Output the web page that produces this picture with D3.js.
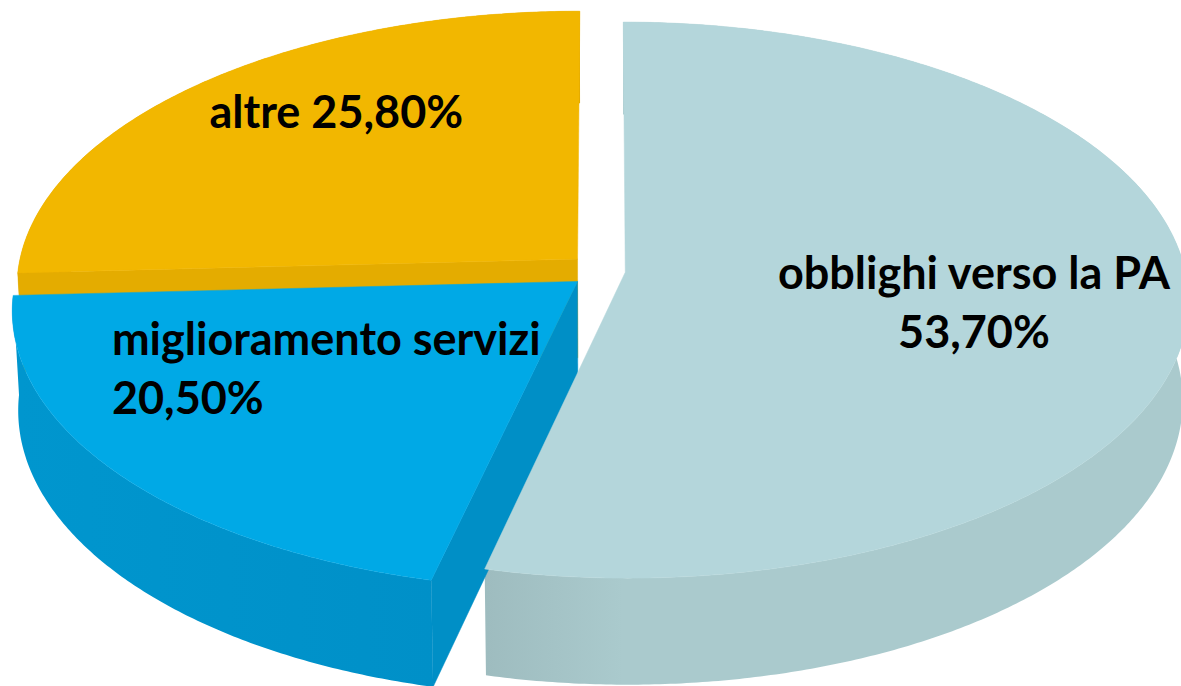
<!DOCTYPE html>
<html>
<head>
<meta charset="utf-8">
<script src="https://cdn.jsdelivr.net/npm/d3@7"></script>
<style>
  html, body { margin: 0; background: #fff; overflow: hidden; }
  text { font-family: Lato, "Open Sans", sans-serif; font-weight: 700; fill: #000; }
</style>
</head>
<body>
<svg id="chart"></svg>
<script>
// data
const categories = ["obblighi verso la PA", "miglioramento servizi", "altre"];
const values = [53.7, 20.5, 25.8];
const explode = [0.04, 0.059, 0.063];
const topColors = ["#B4D6DB", "#00A9E6", "#F2B700"];
const sideColors = [["#AACACD", "#9EBCBF"], ["#0090C8", "#0096CE"], ["#DDA700", "#DDA700"]];
const cutColors = ["#A0C0C3", "#008FC6", "#E4AC00"];
const labelBreak = [true, true, false];
const labelAlign = ["middle", "start", "middle"];
const labelR = [0.62, 0.55, 0.62];
const labelShift = [[1, 13], [-4, -11], [-2, -32]];

const width = 1181, height = 686;

// projection of the tilted pie (unit radius, w = toward viewer)
const CX = 603, CY = 271, FX = 560, FY = 275, PERSP = 0.1, SINK = 0.01, DEPTH = 100;
function proj(u, w, down) {
  const den = 1 - PERSP * w + SINK * down;
  return [CX + FX * u / den, CY + (FY * w + DEPTH * down) / den];
}

const svg = d3.select("#chart").attr("width", width).attr("height", height);
const defs = svg.append("defs");

const fmt = v => d3.format(".2f")(v).replace(".", ",") + "%";

const data = categories.map((name, i) => ({ name, value: values[i], i }));
const arcs = d3.pie().sort(null).value(d => d.value)(data);

const slices = arcs.map(a => {
  const i = a.data.i;
  const mid = (a.startAngle + a.endAngle) / 2;
  const off = { u: explode[i] * Math.sin(mid), w: -explode[i] * Math.cos(mid) };
  const pt = (ang, r, down) => proj(off.u + r * Math.sin(ang), off.w - r * Math.cos(ang), down);
  const angs = d3.range(a.startAngle, a.endAngle, Math.PI / 360).concat([a.endAngle]);
  return { a, i, mid, off, pt, angs };
});

const line = d3.line();

// sides and cut faces, far slices first
const gSides = svg.append("g");
slices.slice().sort((p, q) => p.off.w - q.off.w).forEach(s => {
  const grad = defs.append("linearGradient")
    .attr("id", "side" + s.i)
    .attr("gradientUnits", "userSpaceOnUse")
    .attr("x1", s.pt(s.a.startAngle, 1, 1)[0]).attr("x2", s.pt(s.a.endAngle, 1, 1)[0])
    .attr("y1", 0).attr("y2", 0);
  grad.append("stop").attr("offset", 0).attr("stop-color", sideColors[s.i][0]);
  grad.append("stop").attr("offset", 1).attr("stop-color", sideColors[s.i][1]);

  const topRim = s.angs.map(t => s.pt(t, 1, 0));
  const botRim = s.angs.map(t => s.pt(t, 1, 1)).reverse();
  gSides.append("path")
    .attr("d", line(topRim.concat(botRim)) + "Z")
    .attr("fill", `url(#side${s.i})`);

  const faces = [];
  if (Math.sin(s.a.startAngle) < -1e-6) faces.push(s.a.startAngle);
  if (Math.sin(s.a.endAngle) > 1e-6) faces.push(s.a.endAngle);
  faces.forEach(t => {
    const poly = [s.pt(0, 0, 0), s.pt(t, 1, 0), s.pt(t, 1, 1), s.pt(0, 0, 1)];
    gSides.append("path")
      .attr("d", line(poly) + "Z")
      .attr("fill", cutColors[s.i])
      .attr("stroke", cutColors[s.i]).attr("stroke-width", 0.5);
  });
});

// top faces
const gTops = svg.append("g");
slices.forEach(s => {
  const poly = [s.pt(0, 0, 0)].concat(s.angs.map(t => s.pt(t, 1, 0)));
  gTops.append("path")
    .attr("d", line(poly) + "Z")
    .attr("fill", topColors[s.i])
    .attr("stroke", topColors[s.i]).attr("stroke-width", 0.5);
});

// labels
const gLabels = svg.append("g");
const fontSize = 45, lineH = 59, capH = 13;
slices.forEach(s => {
  const i = s.i;
  const [ax0, ay0] = s.pt(s.mid, labelR[i], 0);
  const ax = ax0 + labelShift[i][0], ay = ay0 + labelShift[i][1];
  const name = categories[i], pct = fmt(values[i]);
  const lines = labelBreak[i] ? [name, pct] : [name + " " + pct];
  const t = gLabels.append("text").attr("font-size", fontSize);
  const spans = lines.map((ln, k) => t.append("tspan")
    .attr("y", ay + (k - (lines.length - 1) / 2) * lineH + capH)
    .text(ln));
  if (labelAlign[i] === "middle") {
    t.attr("text-anchor", "middle");
    spans.forEach(sp => sp.attr("x", ax));
  } else {
    const w = d3.max(spans, sp => sp.node().getComputedTextLength());
    spans.forEach(sp => sp.attr("x", ax - w / 2));
  }
});
</script>
</body>
</html>
